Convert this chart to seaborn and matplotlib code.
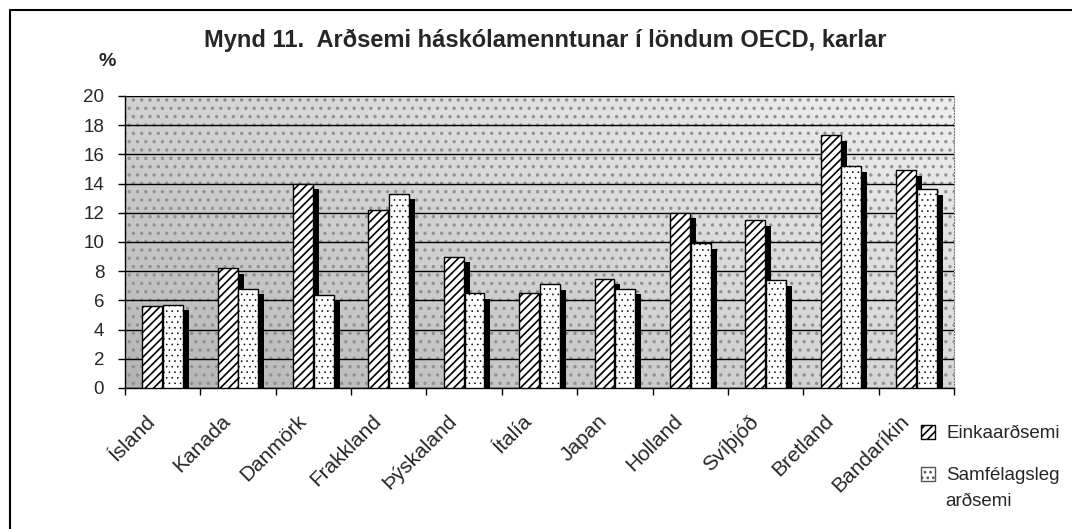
import numpy as np
import pandas as pd
import matplotlib
matplotlib.use("Agg")
import matplotlib.pyplot as plt
import matplotlib.patheffects as pe
from matplotlib.patches import Patch, Rectangle
from matplotlib.lines import Line2D
from matplotlib.transforms import ScaledTranslation
import seaborn as sns

# ---- data ----
countries = ["Ísland", "Kanada", "Danmörk", "Frakkland", "Þýskaland", "Ítalía",
             "Japan", "Holland", "Svíþjóð", "Bretland", "Bandaríkin"]
einka = [5.6, 8.2, 14.0, 12.2, 9.0, 6.5, 7.5, 12.0, 11.5, 17.3, 14.9]
samfelags = [5.7, 6.8, 6.4, 13.3, 6.5, 7.1, 6.8, 9.9, 7.4, 15.2, 13.6]
series = ["Einkaarðsemi", "Samfélagsleg arðsemi"]
yticks = list(range(0, 21, 2))
title = "Mynd 11.  Arðsemi háskólamenntunar í löndum OECD, karlar"

df = pd.DataFrame({
    "land": countries * 2,
    "value": einka + samfelags,
    "series": [series[0]] * len(countries) + [series[1]] * len(countries),
})

sns.set_style("white")
plt.rcParams["font.family"] = ["Liberation Sans", "DejaVu Sans"]
plt.rcParams["hatch.linewidth"] = 1.2

W, H = 1072, 529
fig = plt.figure(figsize=(W / 100, H / 100), dpi=100)
ax = fig.add_axes([125 / W, 1 - 388 / H, (954 - 125) / W, (388 - 96) / H])

# background gradient (stippled gray look)
gx = np.linspace(0, 1, 200)
gy = np.linspace(0, 1, 100)
G = 0.55 * (1 - gx[None, :]) + 0.45 * (1 - gy[:, None])
ax.imshow(G, extent=[0, 1, 0, 1], transform=ax.transAxes, origin="lower",
          cmap="Greys", vmin=-0.5, vmax=3.2, aspect="auto", zorder=0)
ax.add_patch(Rectangle((0, 0), 1, 1, transform=ax.transAxes, facecolor="none",
                       edgecolor="#909090", hatch="..", linewidth=0, zorder=0.5))

sns.barplot(data=df, x="land", y="value", hue="series", palette=["white", "white"],
            edgecolor="black", linewidth=1.0, width=0.55, gap=0.04,
            errorbar=None, legend=False, ax=ax, zorder=3)

shadow = [pe.SimplePatchShadow(offset=(4.3, -4), shadow_rgbFace="black", alpha=1.0),
          pe.Normal()]
hatches = ["////", "..."]
hatch_cols = ["black", "#8c8c8c"]
hatch_lws = [1.2, 0.4]
for cont, h, hc, hl in zip(ax.containers, hatches, hatch_cols, hatch_lws):
    for bar in cont:
        bar.set_hatch(h)
        if hasattr(bar, "set_hatchcolor"):
            bar.set_hatchcolor(hc)
        if hasattr(bar, "set_hatch_linewidth"):
            bar.set_hatch_linewidth(hl)
        bar.set_path_effects(shadow)
        bar.set_zorder(3)

ax.set_ylim(0, 20)
ax.set_xlim(-0.5, len(countries) - 0.5)
ax.set_yticks(yticks)
ax.set_yticklabels([str(t) for t in yticks], fontsize=13.5)
ax.yaxis.grid(True, color="black", linewidth=1.0)
ax.set_axisbelow(False)
for gl in ax.get_ygridlines():
    gl.set_zorder(1)
ax.tick_params(axis="y", length=5, width=1, color="black", direction="out", pad=10, left=True)

ax.set_xticks(range(len(countries)))
ax.set_xticklabels(countries, rotation=45, ha="right", rotation_mode="anchor", fontsize=15)
ax.set_xticks(np.arange(-0.5, len(countries), 1), minor=True)
ax.tick_params(axis="x", which="major", length=0, pad=17)
ax.tick_params(axis="x", which="minor", length=5, width=1, color="black", direction="out", bottom=True)
off = ScaledTranslation(-17 / 100, 0, fig.dpi_scale_trans)
for lab in ax.get_xticklabels():
    lab.set_transform(lab.get_transform() + off)
ax.set_xlabel("")
ax.set_ylabel("")

for s in ["left", "bottom"]:
    ax.spines[s].set_color("black")
    ax.spines[s].set_linewidth(1.0)
for s in ["top", "right"]:
    ax.spines[s].set_color("#7a7a7a")
    ax.spines[s].set_linewidth(0.8)
    ax.spines[s].set_linestyle(":")

fig.text(545 / W, 1 - 40 / H, title, ha="center", va="center", fontsize=17, fontweight="bold")
fig.text(107 / W, 1 - 62 / H, "%", ha="center", va="center", fontsize=14, fontweight="bold")

# legend: handle aligned with first line of each entry
first_lines = [series[0], series[1].split(" ")[0]]
handles = [Patch(facecolor="white", edgecolor="black", hatch="////", label=first_lines[0]),
           Patch(facecolor="white", edgecolor="#555555", hatch="...", label=first_lines[1])]
fig.legend(handles=handles, loc="upper left", bbox_to_anchor=(921 / W, 1 - 425 / H),
           frameon=False, handlelength=0.75, handleheight=0.75, fontsize=13.5,
           labelspacing=1.3, handletextpad=0.6, borderpad=0, borderaxespad=0)
fig.text(945 / W, 1 - 501 / H, series[1].split(" ")[1], ha="left", va="center", fontsize=13.5)

# outer frame (top and left edges visible)
fig.add_artist(Line2D([10 / W, 10 / W, 1.0], [0.0, 1 - 10 / H, 1 - 10 / H],
                      transform=fig.transFigure, color="black", linewidth=1.5))

fig.savefig("out.png", dpi=100)
